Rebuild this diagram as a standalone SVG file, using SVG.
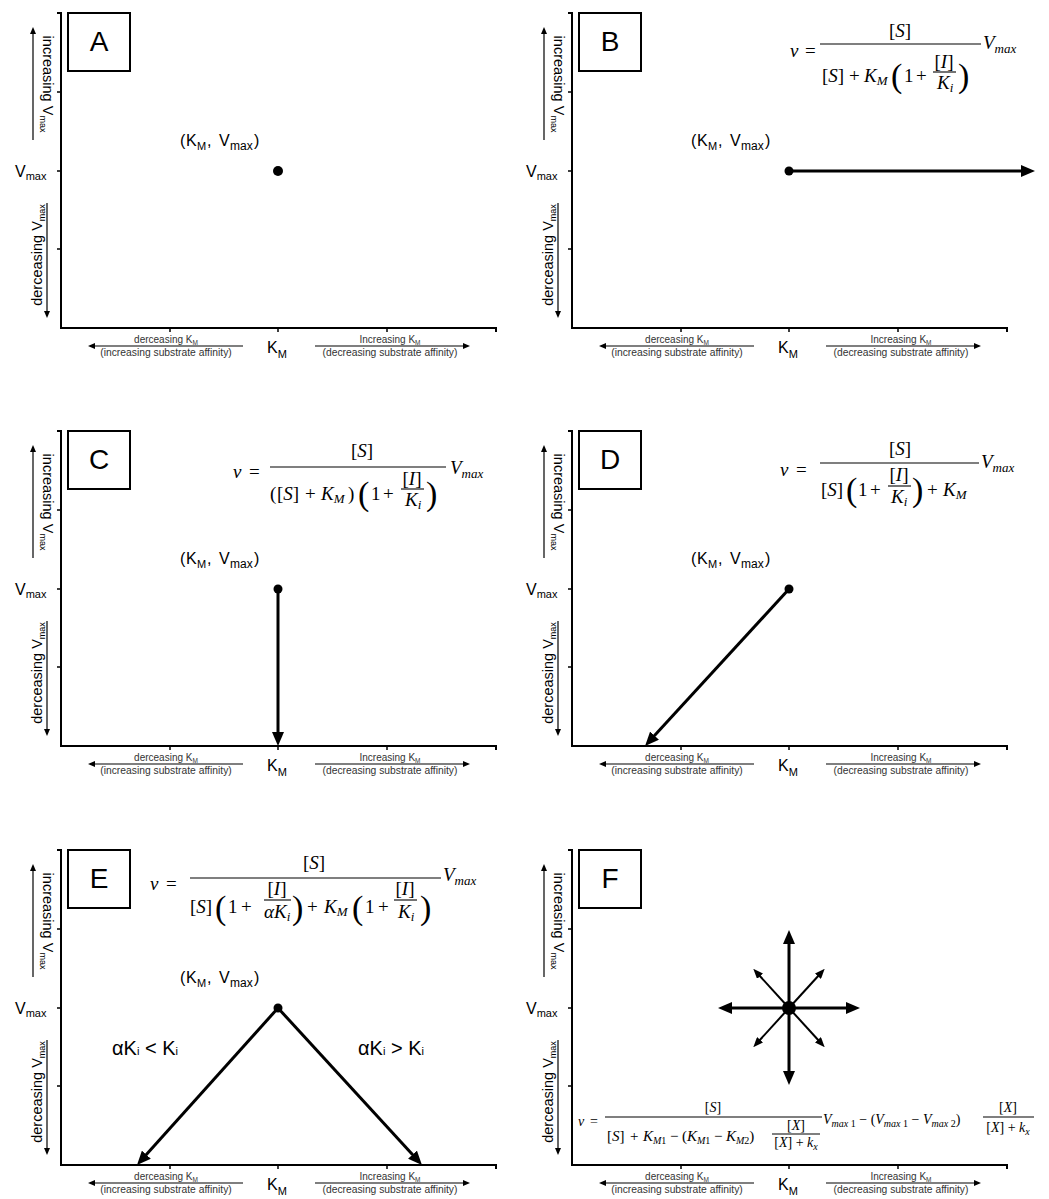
<svg xmlns="http://www.w3.org/2000/svg" width="1049" height="1199" viewBox="0 0 1049 1199">
<defs>
<style>
.ax{stroke:#000;stroke-width:2;fill:none}
.tk{stroke:#000;stroke-width:1.5;fill:none}
.la{stroke:#000;stroke-width:1.2;marker-end:url(#aht)}
.big{stroke:#000;stroke-width:3;marker-end:url(#ah)}
.sm{stroke:#000;stroke-width:2;marker-end:url(#ahs)}
.box{fill:#fff;stroke:#000;stroke-width:2}
.fb{stroke:#000;stroke-width:1.1}
.s{font-family:"Liberation Sans",Arial,sans-serif;fill:#000}
.g{fill:#333}
.m{font-family:"Liberation Serif","Times New Roman",serif;font-size:19px;fill:#000}
.f{font-family:"Liberation Serif","Times New Roman",serif;font-size:14px;fill:#000}
.p{font-size:34px}
.it{font-style:italic}
</style>
<marker id="ah" markerUnits="userSpaceOnUse" markerWidth="14" markerHeight="12" refX="4" refY="6" orient="auto"><path d="M0,0 L14,6 L0,12 z" fill="#000"/></marker>
<marker id="ahs" markerUnits="userSpaceOnUse" markerWidth="10" markerHeight="8" refX="3" refY="4" orient="auto"><path d="M0,0 L10,4 L0,8 z" fill="#000"/></marker>
<marker id="aht" markerUnits="userSpaceOnUse" markerWidth="7" markerHeight="6" refX="2" refY="3" orient="auto"><path d="M0,0 L7,3 L0,6 z" fill="#000"/></marker>
</defs>
<rect width="1049" height="1199" fill="#fff"/>

<!-- Panel A -->
<g id="panelA">
<path class="ax" d="M57,13 H61 V328 H496 V332"/>
<path class="tk" d="M57,92 H61 M57,171 H61 M57,249 H61 M170,328 V332 M278,328 V332 M387,328 V332"/>
<rect class="box" x="68" y="13" width="62" height="58"/>
<text class="s" x="99" y="51" text-anchor="middle" font-size="28">A</text>
<text class="s" x="15" y="177" font-size="16">V<tspan font-size="11" dy="3">max</tspan></text>
<line class="la" x1="33" y1="140" x2="33" y2="32"/>
<text class="s" transform="translate(48,84) rotate(90)" text-anchor="middle" y="5" font-size="14.5">increasing V<tspan font-size="9" dy="3">max</tspan></text>
<line class="la" x1="47" y1="203" x2="47" y2="313"/>
<text class="s" transform="translate(37,255) rotate(-90)" text-anchor="middle" y="5" font-size="14.5">derceasing V<tspan font-size="9" dy="3">max</tspan></text>
<line class="la" x1="243" y1="346" x2="93" y2="346"/>
<text class="s g" x="166" y="343" text-anchor="middle" font-size="10">derceasing K<tspan font-size="6.5" dy="1.5">M</tspan></text>
<text class="s g" x="166" y="356" text-anchor="middle" font-size="10.3">(increasing substrate affinity)</text>
<line class="la" x1="315" y1="346" x2="465" y2="346"/>
<text class="s g" x="390" y="343" text-anchor="middle" font-size="10">Increasing K<tspan font-size="6.5" dy="1.5">M</tspan></text>
<text class="s g" x="390" y="356" text-anchor="middle" font-size="10.3">(decreasing substrate affinity)</text>
<text class="s" x="267" y="353" font-size="16">K<tspan font-size="11" dy="5">M</tspan></text>
<text class="s" y="146" font-size="16"><tspan x="180">(</tspan><tspan x="186">K</tspan><tspan x="197" font-size="11" dy="4">M</tspan><tspan x="207" dy="-4">,</tspan><tspan x="219">V</tspan><tspan x="230" font-size="12" dy="4">max</tspan><tspan x="254" dy="-4">)</tspan></text>
<circle cx="278" cy="171" r="5"/>
</g>

<!-- Panel B -->
<g id="panelB" transform="translate(511,0)">
<path class="ax" d="M57,13 H61 V328 H496 V332"/>
<path class="tk" d="M57,92 H61 M57,171 H61 M57,249 H61 M170,328 V332 M278,328 V332 M387,328 V332"/>
<rect class="box" x="68" y="13" width="62" height="58"/>
<text class="s" x="99" y="51" text-anchor="middle" font-size="28">B</text>
<text class="s" x="15" y="177" font-size="16">V<tspan font-size="11" dy="3">max</tspan></text>
<line class="la" x1="33" y1="140" x2="33" y2="32"/>
<text class="s" transform="translate(48,84) rotate(90)" text-anchor="middle" y="5" font-size="14.5">increasing V<tspan font-size="9" dy="3">max</tspan></text>
<line class="la" x1="47" y1="203" x2="47" y2="313"/>
<text class="s" transform="translate(37,255) rotate(-90)" text-anchor="middle" y="5" font-size="14.5">derceasing V<tspan font-size="9" dy="3">max</tspan></text>
<line class="la" x1="243" y1="346" x2="93" y2="346"/>
<text class="s g" x="166" y="343" text-anchor="middle" font-size="10">derceasing K<tspan font-size="6.5" dy="1.5">M</tspan></text>
<text class="s g" x="166" y="356" text-anchor="middle" font-size="10.3">(increasing substrate affinity)</text>
<line class="la" x1="315" y1="346" x2="465" y2="346"/>
<text class="s g" x="390" y="343" text-anchor="middle" font-size="10">Increasing K<tspan font-size="6.5" dy="1.5">M</tspan></text>
<text class="s g" x="390" y="356" text-anchor="middle" font-size="10.3">(decreasing substrate affinity)</text>
<text class="s" x="267" y="353" font-size="16">K<tspan font-size="11" dy="5">M</tspan></text>
<text class="s" y="146" font-size="16"><tspan x="180">(</tspan><tspan x="186">K</tspan><tspan x="197" font-size="11" dy="4">M</tspan><tspan x="207" dy="-4">,</tspan><tspan x="219">V</tspan><tspan x="230" font-size="12" dy="4">max</tspan><tspan x="254" dy="-4">)</tspan></text>
<circle cx="278" cy="171" r="4.5"/>
</g>
<g id="formulaB">
<text class="m it" x="790" y="57">v</text>
<text class="m" x="805" y="57">=</text>
<line class="fb" x1="820" y1="44" x2="981" y2="44"/>
<text class="m" x="900" y="37" text-anchor="middle">[<tspan class="it">S</tspan>]</text>
<text class="m" x="822" y="82">[<tspan class="it">S</tspan>]</text>
<text class="m" x="849" y="82">+</text>
<text class="m it" x="864" y="82">K<tspan font-size="13" dy="3">M</tspan></text>
<text class="m p" x="891" y="87">(</text>
<text class="m" x="904" y="82">1</text>
<text class="m" x="916" y="82">+</text>
<text class="m" x="944" y="68" text-anchor="middle">[<tspan class="it">I</tspan>]</text>
<line class="fb" x1="933" y1="72" x2="956" y2="72"/>
<text class="m it" x="937" y="89">K<tspan font-size="13" dy="3">i</tspan></text>
<text class="m p" x="958" y="87">)</text>
<text class="m it" x="983" y="49">V<tspan font-size="13" dy="4">max</tspan></text>
</g>

<!-- Panel C -->
<g id="panelC" transform="translate(0,418)">
<path class="ax" d="M57,13 H61 V328 H496 V332"/>
<path class="tk" d="M57,92 H61 M57,171 H61 M57,249 H61 M170,328 V332 M278,328 V332 M387,328 V332"/>
<rect class="box" x="68" y="13" width="62" height="58"/>
<text class="s" x="99" y="51" text-anchor="middle" font-size="28">C</text>
<text class="s" x="15" y="177" font-size="16">V<tspan font-size="11" dy="3">max</tspan></text>
<line class="la" x1="33" y1="140" x2="33" y2="32"/>
<text class="s" transform="translate(48,84) rotate(90)" text-anchor="middle" y="5" font-size="14.5">increasing V<tspan font-size="9" dy="3">max</tspan></text>
<line class="la" x1="47" y1="203" x2="47" y2="313"/>
<text class="s" transform="translate(37,255) rotate(-90)" text-anchor="middle" y="5" font-size="14.5">derceasing V<tspan font-size="9" dy="3">max</tspan></text>
<line class="la" x1="243" y1="346" x2="93" y2="346"/>
<text class="s g" x="166" y="343" text-anchor="middle" font-size="10">derceasing K<tspan font-size="6.5" dy="1.5">M</tspan></text>
<text class="s g" x="166" y="356" text-anchor="middle" font-size="10.3">(increasing substrate affinity)</text>
<line class="la" x1="315" y1="346" x2="465" y2="346"/>
<text class="s g" x="390" y="343" text-anchor="middle" font-size="10">Increasing K<tspan font-size="6.5" dy="1.5">M</tspan></text>
<text class="s g" x="390" y="356" text-anchor="middle" font-size="10.3">(decreasing substrate affinity)</text>
<text class="s" x="267" y="353" font-size="16">K<tspan font-size="11" dy="5">M</tspan></text>
<text class="s" y="146" font-size="16"><tspan x="180">(</tspan><tspan x="186">K</tspan><tspan x="197" font-size="11" dy="4">M</tspan><tspan x="207" dy="-4">,</tspan><tspan x="219">V</tspan><tspan x="230" font-size="12" dy="4">max</tspan><tspan x="254" dy="-4">)</tspan></text>
<circle cx="278" cy="171" r="4.5"/>
</g>
<g id="formulaC">
<text class="m it" x="233" y="478">v</text>
<text class="m" x="249" y="478">=</text>
<line class="fb" x1="270" y1="467" x2="446" y2="467"/>
<text class="m" x="362" y="457" text-anchor="middle">[<tspan class="it">S</tspan>]</text>
<text class="m" x="270" y="500">(</text>
<text class="m" x="277" y="500">[<tspan class="it">S</tspan>]</text>
<text class="m" x="305" y="500">+</text>
<text class="m it" x="321" y="500">K<tspan font-size="13" dy="3">M</tspan></text>
<text class="m" x="348" y="500">)</text>
<text class="m p" x="358" y="505">(</text>
<text class="m" x="371" y="500">1</text>
<text class="m" x="383" y="500">+</text>
<text class="m" x="412" y="485" text-anchor="middle">[<tspan class="it">I</tspan>]</text>
<line class="fb" x1="401" y1="489" x2="424" y2="489"/>
<text class="m it" x="405" y="506">K<tspan font-size="13" dy="3">i</tspan></text>
<text class="m p" x="426" y="505">)</text>
<text class="m it" x="450" y="474">V<tspan font-size="13" dy="4">max</tspan></text>
</g>

<!-- Panel D -->
<g id="panelD" transform="translate(511,418)">
<path class="ax" d="M57,13 H61 V328 H496 V332"/>
<path class="tk" d="M57,92 H61 M57,171 H61 M57,249 H61 M170,328 V332 M278,328 V332 M387,328 V332"/>
<rect class="box" x="68" y="13" width="62" height="58"/>
<text class="s" x="99" y="51" text-anchor="middle" font-size="28">D</text>
<text class="s" x="15" y="177" font-size="16">V<tspan font-size="11" dy="3">max</tspan></text>
<line class="la" x1="33" y1="140" x2="33" y2="32"/>
<text class="s" transform="translate(48,84) rotate(90)" text-anchor="middle" y="5" font-size="14.5">increasing V<tspan font-size="9" dy="3">max</tspan></text>
<line class="la" x1="47" y1="203" x2="47" y2="313"/>
<text class="s" transform="translate(37,255) rotate(-90)" text-anchor="middle" y="5" font-size="14.5">derceasing V<tspan font-size="9" dy="3">max</tspan></text>
<line class="la" x1="243" y1="346" x2="93" y2="346"/>
<text class="s g" x="166" y="343" text-anchor="middle" font-size="10">derceasing K<tspan font-size="6.5" dy="1.5">M</tspan></text>
<text class="s g" x="166" y="356" text-anchor="middle" font-size="10.3">(increasing substrate affinity)</text>
<line class="la" x1="315" y1="346" x2="465" y2="346"/>
<text class="s g" x="390" y="343" text-anchor="middle" font-size="10">Increasing K<tspan font-size="6.5" dy="1.5">M</tspan></text>
<text class="s g" x="390" y="356" text-anchor="middle" font-size="10.3">(decreasing substrate affinity)</text>
<text class="s" x="267" y="353" font-size="16">K<tspan font-size="11" dy="5">M</tspan></text>
<text class="s" y="146" font-size="16"><tspan x="180">(</tspan><tspan x="186">K</tspan><tspan x="197" font-size="11" dy="4">M</tspan><tspan x="207" dy="-4">,</tspan><tspan x="219">V</tspan><tspan x="230" font-size="12" dy="4">max</tspan><tspan x="254" dy="-4">)</tspan></text>
<circle cx="278" cy="171" r="4.5"/>
</g>
<g id="formulaD">
<text class="m it" x="780" y="476">v</text>
<text class="m" x="796" y="476">=</text>
<line class="fb" x1="820" y1="463" x2="979" y2="463"/>
<text class="m" x="900" y="455" text-anchor="middle">[<tspan class="it">S</tspan>]</text>
<text class="m" x="821" y="496">[<tspan class="it">S</tspan>]</text>
<text class="m p" x="846" y="501">(</text>
<text class="m" x="858" y="496">1</text>
<text class="m" x="870" y="496">+</text>
<text class="m" x="899" y="481" text-anchor="middle">[<tspan class="it">I</tspan>]</text>
<line class="fb" x1="888" y1="486" x2="911" y2="486"/>
<text class="m it" x="891" y="503">K<tspan font-size="13" dy="3">i</tspan></text>
<text class="m p" x="912" y="501">)</text>
<text class="m" x="927" y="496">+</text>
<text class="m it" x="943" y="496">K<tspan font-size="13" dy="3">M</tspan></text>
<text class="m it" x="981" y="468">V<tspan font-size="13" dy="4">max</tspan></text>
</g>

<!-- Panel E -->
<g id="panelE" transform="translate(0,837)">
<path class="ax" d="M57,13 H61 V328 H496 V332"/>
<path class="tk" d="M57,92 H61 M57,171 H61 M57,249 H61 M170,328 V332 M278,328 V332 M387,328 V332"/>
<rect class="box" x="68" y="13" width="62" height="58"/>
<text class="s" x="99" y="51" text-anchor="middle" font-size="28">E</text>
<text class="s" x="15" y="177" font-size="16">V<tspan font-size="11" dy="3">max</tspan></text>
<line class="la" x1="33" y1="140" x2="33" y2="32"/>
<text class="s" transform="translate(48,84) rotate(90)" text-anchor="middle" y="5" font-size="14.5">increasing V<tspan font-size="9" dy="3">max</tspan></text>
<line class="la" x1="47" y1="203" x2="47" y2="313"/>
<text class="s" transform="translate(37,255) rotate(-90)" text-anchor="middle" y="5" font-size="14.5">derceasing V<tspan font-size="9" dy="3">max</tspan></text>
<line class="la" x1="243" y1="346" x2="93" y2="346"/>
<text class="s g" x="166" y="343" text-anchor="middle" font-size="10">derceasing K<tspan font-size="6.5" dy="1.5">M</tspan></text>
<text class="s g" x="166" y="356" text-anchor="middle" font-size="10.3">(increasing substrate affinity)</text>
<line class="la" x1="315" y1="346" x2="465" y2="346"/>
<text class="s g" x="390" y="343" text-anchor="middle" font-size="10">Increasing K<tspan font-size="6.5" dy="1.5">M</tspan></text>
<text class="s g" x="390" y="356" text-anchor="middle" font-size="10.3">(decreasing substrate affinity)</text>
<text class="s" x="267" y="353" font-size="16">K<tspan font-size="11" dy="5">M</tspan></text>
<text class="s" y="146" font-size="16"><tspan x="180">(</tspan><tspan x="186">K</tspan><tspan x="197" font-size="11" dy="4">M</tspan><tspan x="207" dy="-4">,</tspan><tspan x="219">V</tspan><tspan x="230" font-size="12" dy="4">max</tspan><tspan x="254" dy="-4">)</tspan></text>
<circle cx="278" cy="171" r="4.5"/>
<text class="s" x="112" y="218" font-size="20">αK<tspan font-size="11">i</tspan> &lt; K<tspan font-size="11">i</tspan></text>
<text class="s" x="358" y="218" font-size="20">αK<tspan font-size="11">i</tspan> &gt; K<tspan font-size="11">i</tspan></text>
</g>
<g id="formulaE">
<text class="m it" x="150" y="890">v</text>
<text class="m" x="166" y="890">=</text>
<line class="fb" x1="190" y1="878" x2="441" y2="878"/>
<text class="m" x="314" y="869" text-anchor="middle">[<tspan class="it">S</tspan>]</text>
<text class="m" x="190" y="913">[<tspan class="it">S</tspan>]</text>
<text class="m p" x="215" y="919">(</text>
<text class="m" x="228" y="913">1</text>
<text class="m" x="241" y="913">+</text>
<text class="m" x="277" y="895" text-anchor="middle">[<tspan class="it">I</tspan>]</text>
<line class="fb" x1="264" y1="900" x2="291" y2="900"/>
<text class="m it" x="264" y="918">αK<tspan font-size="13" dy="3">i</tspan></text>
<text class="m p" x="292" y="919">)</text>
<text class="m" x="307" y="913">+</text>
<text class="m it" x="324" y="913">K<tspan font-size="13" dy="3">M</tspan></text>
<text class="m p" x="352" y="919">(</text>
<text class="m" x="365" y="913">1</text>
<text class="m" x="378" y="913">+</text>
<text class="m" x="405" y="895" text-anchor="middle">[<tspan class="it">I</tspan>]</text>
<line class="fb" x1="394" y1="900" x2="417" y2="900"/>
<text class="m it" x="398" y="918">K<tspan font-size="13" dy="3">i</tspan></text>
<text class="m p" x="420" y="919">)</text>
<text class="m it" x="443" y="881">V<tspan font-size="13" dy="4">max</tspan></text>
</g>

<!-- Panel F -->
<g id="panelF" transform="translate(511,837)">
<path class="ax" d="M57,13 H61 V328 H496 V332"/>
<path class="tk" d="M57,92 H61 M57,171 H61 M57,249 H61 M170,328 V332 M278,328 V332 M387,328 V332"/>
<rect class="box" x="68" y="13" width="62" height="58"/>
<text class="s" x="99" y="51" text-anchor="middle" font-size="28">F</text>
<text class="s" x="15" y="177" font-size="16">V<tspan font-size="11" dy="3">max</tspan></text>
<line class="la" x1="33" y1="140" x2="33" y2="32"/>
<text class="s" transform="translate(48,84) rotate(90)" text-anchor="middle" y="5" font-size="14.5">increasing V<tspan font-size="9" dy="3">max</tspan></text>
<line class="la" x1="47" y1="203" x2="47" y2="313"/>
<text class="s" transform="translate(37,255) rotate(-90)" text-anchor="middle" y="5" font-size="14.5">derceasing V<tspan font-size="9" dy="3">max</tspan></text>
<line class="la" x1="243" y1="346" x2="93" y2="346"/>
<text class="s g" x="166" y="343" text-anchor="middle" font-size="10">derceasing K<tspan font-size="6.5" dy="1.5">M</tspan></text>
<text class="s g" x="166" y="356" text-anchor="middle" font-size="10.3">(increasing substrate affinity)</text>
<line class="la" x1="315" y1="346" x2="465" y2="346"/>
<text class="s g" x="390" y="343" text-anchor="middle" font-size="10">Increasing K<tspan font-size="6.5" dy="1.5">M</tspan></text>
<text class="s g" x="390" y="356" text-anchor="middle" font-size="10.3">(decreasing substrate affinity)</text>
<text class="s" x="267" y="353" font-size="16">K<tspan font-size="11" dy="5">M</tspan></text>
<circle cx="278" cy="171" r="7"/>
</g>
<g id="formulaF">
<text class="f it" x="578" y="1126">v</text>
<text class="f" x="590" y="1126">=</text>
<line class="fb" x1="605" y1="1117" x2="822" y2="1117"/>
<text class="f" x="713" y="1112" text-anchor="middle">[<tspan class="it">S</tspan>]</text>
<text class="f" y="1141" style="font-size:15px"><tspan x="607">[<tspan class="it">S</tspan>]</tspan><tspan x="630">+</tspan><tspan x="643" class="it">K</tspan><tspan font-size="10" dy="3"><tspan class="it">M</tspan>1</tspan><tspan x="670" dy="-3">−</tspan><tspan x="682">(</tspan><tspan class="it">K</tspan><tspan font-size="10" dy="3"><tspan class="it">M</tspan>1</tspan><tspan x="714" dy="-3">−</tspan><tspan x="726" class="it">K</tspan><tspan font-size="10" dy="3"><tspan class="it">M</tspan>2</tspan><tspan dy="-3">)</tspan></text>
<text class="f" x="796" y="1130" text-anchor="middle">[<tspan class="it">X</tspan>]</text>
<line class="fb" x1="772" y1="1134" x2="820" y2="1134"/>
<text class="f" x="796" y="1147" text-anchor="middle">[<tspan class="it">X</tspan>] + <tspan class="it">k<tspan font-size="10" dy="3">x</tspan></tspan></text>
<text class="f" y="1124"><tspan x="823" class="it">V</tspan><tspan font-size="10" dy="3"><tspan class="it">max</tspan> 1</tspan><tspan dy="-3"> − (</tspan><tspan class="it">V</tspan><tspan font-size="10" dy="3"><tspan class="it">max</tspan> 1</tspan><tspan dy="-3"> − </tspan><tspan class="it">V</tspan><tspan font-size="10" dy="3"><tspan class="it">max</tspan> 2</tspan><tspan dy="-3">)</tspan></text>
<text class="f" x="1008" y="1112" text-anchor="middle">[<tspan class="it">X</tspan>]</text>
<line class="fb" x1="983" y1="1117" x2="1034" y2="1117"/>
<text class="f" x="1008" y="1132" text-anchor="middle">[<tspan class="it">X</tspan>] + <tspan class="it">k<tspan font-size="10" dy="3">x</tspan></tspan></text>
</g>

<g id="connectors">
<line class="big" x1="789" y1="171" x2="1025" y2="171"/>
<line class="big" x1="278" y1="589" x2="278" y2="736"/>
<line class="big" x1="789" y1="589" x2="651.8" y2="738.6"/>
<line class="big" x1="278" y1="1008" x2="143.7" y2="1157.6"/>
<line class="big" x1="278" y1="1008" x2="415.2" y2="1157.6"/>
<line class="big" x1="789" y1="1008" x2="789" y2="940"/>
<line class="big" x1="789" y1="1008" x2="789" y2="1075"/>
<line class="big" x1="789" y1="1008" x2="728" y2="1008"/>
<line class="big" x1="789" y1="1008" x2="850" y2="1008"/>
<line class="sm" x1="789" y1="1008" x2="758" y2="974"/>
<line class="sm" x1="789" y1="1008" x2="820" y2="974"/>
<line class="sm" x1="789" y1="1008" x2="758" y2="1042"/>
<line class="sm" x1="789" y1="1008" x2="820" y2="1042"/>
</g>
</svg>
